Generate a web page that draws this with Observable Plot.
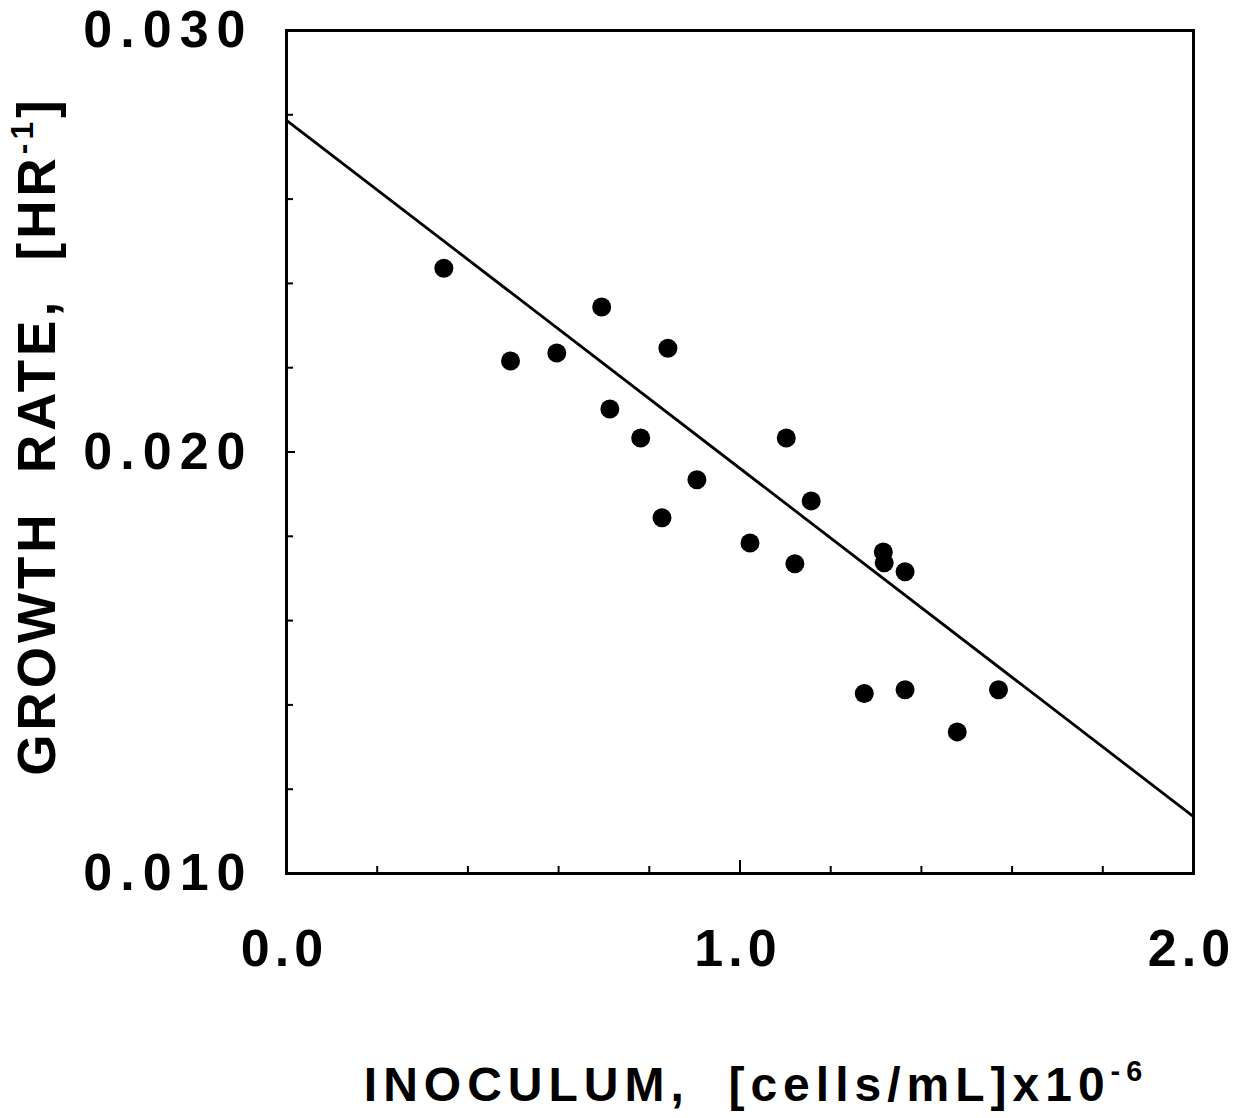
<!DOCTYPE html>
<html>
<head>
<meta charset="utf-8">
<script src="https://cdn.jsdelivr.net/npm/d3@7"></script>
<script src="https://cdn.jsdelivr.net/npm/@observablehq/plot@0.6"></script>
<style>
  html, body { margin: 0; padding: 0; background: #fff; }
  #chart svg { display: block; }
</style>
</head>
<body>
<div id="chart"></div>
<script>
// Data
const inoculum = [0.347, 0.494, 0.596, 0.695, 0.713, 0.781, 0.828, 0.841, 0.905, 1.022,
                  1.102, 1.121, 1.157, 1.274, 1.316, 1.318, 1.364, 1.364, 1.479, 1.570];
const growthRate = [0.02436, 0.02216, 0.02235, 0.02344, 0.02102, 0.02033, 0.01844, 0.02246, 0.01934, 0.01784,
                    0.02033, 0.01735, 0.01884, 0.01427, 0.01763, 0.01737, 0.01716, 0.01436, 0.01336, 0.01436];
// Regression line end points
const fitX = [0, 2.0];
const fitY = [0.02787, 0.01135];

const xMajorTicks = [0, 1, 2];
const xMinorTicks = [0.2, 0.4, 0.6, 0.8, 1.2, 1.4, 1.6, 1.8];
const yMajorTicks = [0.010, 0.020, 0.030];
const yMinorTicks = [0.012, 0.014, 0.016, 0.018, 0.022, 0.024, 0.026, 0.028];
const xTickLabels = ["0.0", "1.0", "2.0"];
const yTickLabels = ["0.010", "0.020", "0.030"];
const xTitle = "INOCULUM,  [cells/mL]x10^{-6}";
const yTitle = "GROWTH  RATE,  [HR^{-1}]";

const points = inoculum.map((x, i) => ({x, y: growthRate[i]}));
const fit = fitX.map((x, i) => ({x, y: fitY[i]}));

const FONT = "'Liberation Sans', Arial, Helvetica, sans-serif";

const plot = Plot.plot({
  width: 1239,
  height: 1118,
  marginLeft: 286,
  marginRight: 46,
  marginTop: 30,
  marginBottom: 245,
  style: {fontFamily: FONT, background: "#fff", color: "#000"},
  x: {domain: [0, 2], axis: null},
  y: {domain: [0.010, 0.030], axis: null},
  marks: [
    // minor ticks (inward)
    Plot.axisX({ticks: xMinorTicks, tickSize: -7, strokeWidth: 2, label: null, text: null}),
    Plot.axisX({ticks: [1], tickSize: -13, strokeWidth: 2, label: null, text: null}),
    Plot.axisY({ticks: yMinorTicks, tickSize: -7, strokeWidth: 2, label: null, text: null}),
    Plot.axisY({ticks: [0.020], tickSize: -9, strokeWidth: 2, label: null, text: null}),
    // tick labels
    Plot.axisX({ticks: xMajorTicks, tickSize: 0, tickPadding: 56, tickFormat: (d, i) => xTickLabels[i],
      fontSize: 52, fontWeight: "bold", label: null, className: "ticklab xtl", dx: -2}),
    Plot.axisY({ticks: yMajorTicks, tickSize: 0, tickPadding: 33, tickFormat: (d, i) => yTickLabels[i],
      fontSize: 52, fontWeight: "bold", label: null, className: "ticklab ytl"}),
    Plot.frame({stroke: "#000", strokeWidth: 3}),
    Plot.line(fit, {x: "x", y: "y", stroke: "#000", strokeWidth: 2.8}),
    Plot.dot(points, {x: "x", y: "y", r: 9.5, fill: "#000", stroke: "none"}),
    // axis titles
    Plot.text([xTitle], {frameAnchor: "bottom", dx: 16, dy: 212, text: d => d, fontSize: 48,
      fontWeight: "bold", textAnchor: "middle", lineAnchor: "middle", fill: "#000", className: "ttl xttl"}),
    Plot.text([yTitle], {frameAnchor: "left", dx: -248, dy: -16, rotate: -90, text: d => d, fontSize: 53,
      fontWeight: "bold", textAnchor: "middle", lineAnchor: "middle", fill: "#000", className: "ttl yttl"})
  ]
});

document.getElementById("chart").appendChild(plot);

// letter spacing for tick labels
plot.querySelectorAll(".ytl text").forEach(t => t.setAttribute("letter-spacing", "8"));
plot.querySelectorAll(".xtl text").forEach(t => t.setAttribute("letter-spacing", "5"));
plot.querySelectorAll(".xttl text").forEach(t => t.setAttribute("letter-spacing", "6"));
plot.querySelectorAll(".yttl text").forEach(t => t.setAttribute("letter-spacing", "4"));

// superscripts in titles
const NS = "http://www.w3.org/2000/svg";
plot.querySelectorAll(".ttl text").forEach(el => {
  const t = el.textContent;
  const m = t.match(/^(.*)\^\{(.*?)\}(.*)$/);
  if (!m) return;
  const fs = parseFloat(el.closest("g").getAttribute("font-size") || 46);
  el.textContent = "";
  const a = document.createElementNS(NS, "tspan");
  a.textContent = m[1];
  el.appendChild(a);
  const s = document.createElementNS(NS, "tspan");
  s.textContent = m[2];
  s.setAttribute("font-size", fs * 0.6);
  s.setAttribute("dy", -fs * 0.42);
  el.appendChild(s);
  if (m[3]) {
    const r = document.createElementNS(NS, "tspan");
    r.textContent = m[3];
    r.setAttribute("dy", fs * 0.42);
    el.appendChild(r);
  }
});
</script>
</body>
</html>
